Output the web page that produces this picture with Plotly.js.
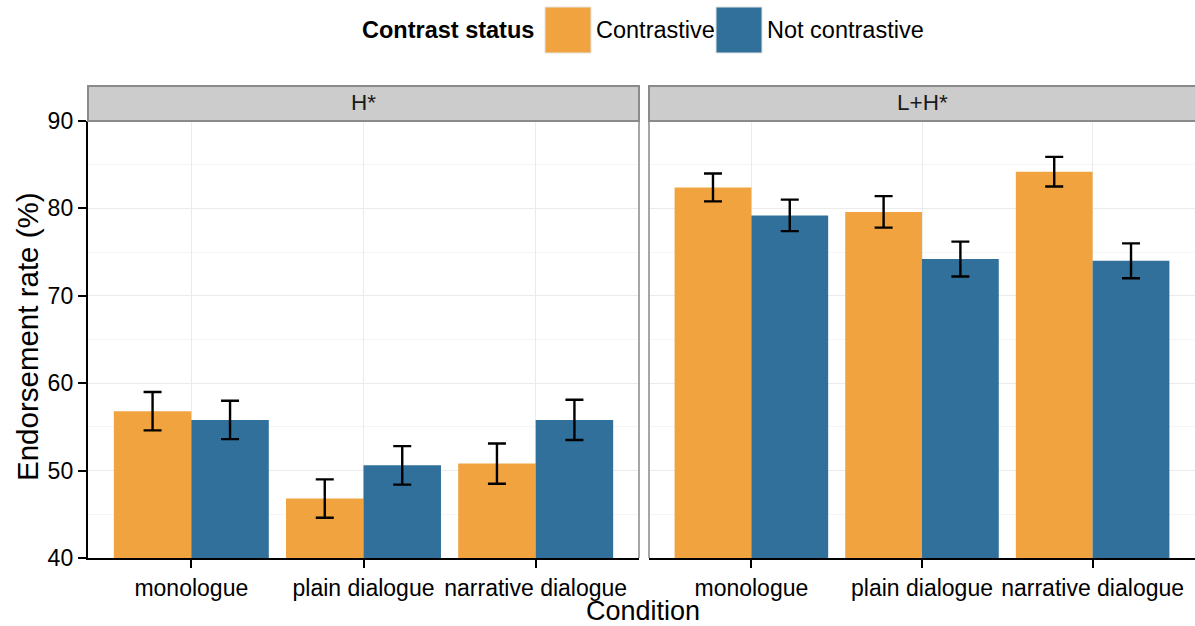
<!DOCTYPE html>
<html>
<head>
<meta charset="utf-8">
<script src="https://cdn.plot.ly/plotly-3.0.1.min.js"></script>
<style>html,body{margin:0;padding:0;background:#fff;}#chart{width:1195px;height:626px;}</style>
</head>
<body>
<div id="chart"></div>
<script>
// ---- data ----
const conditions = ["monologue", "plain dialogue", "narrative dialogue"];
const panels = ["H*", "L+H*"];
const seriesNames = ["Contrastive", "Not contrastive"];
const legendTitle = "Contrast status";
const xTitle = "Condition";
const yTitle = "Endorsement rate (%)";
const yTicks = [40, 50, 60, 70, 80, 90];

// H* panel
const hContrastive = [56.8, 46.8, 50.8];
const hContrastiveErr = [2.2, 2.2, 2.3];
const hNotContrastive = [55.8, 50.6, 55.8];
const hNotContrastiveErr = [2.2, 2.2, 2.3];
// L+H* panel
const lhContrastive = [82.4, 79.6, 84.2];
const lhContrastiveErr = [1.6, 1.8, 1.7];
const lhNotContrastive = [79.2, 74.2, 74.0];
const lhNotContrastiveErr = [1.8, 2.0, 2.0];

const colors = ["#F0A33F", "#31709B"];

// ---- chart ----
const W = 1195, H = 626;
const px = v => v / W;
const py = v => 1 - v / H;

function barTrace(name, y, err, color, xa, ya) {
  return {
    type: "bar", name: name, x: conditions, y: y,
    xaxis: xa, yaxis: ya,
    marker: {color: color, line: {width: 0}},
    error_y: {type: "data", array: err, visible: true, color: "#000", thickness: 2.4, width: 9},
    showlegend: false, hoverinfo: "x+y"
  };
}

const data = [
  barTrace(seriesNames[0], hContrastive, hContrastiveErr, colors[0], "x", "y"),
  barTrace(seriesNames[1], hNotContrastive, hNotContrastiveErr, colors[1], "x", "y"),
  barTrace(seriesNames[0], lhContrastive, lhContrastiveErr, colors[0], "x2", "y2"),
  barTrace(seriesNames[1], lhNotContrastive, lhNotContrastiveErr, colors[1], "x2", "y2")
];

const font = "Liberation Sans, Arial, Helvetica, sans-serif";
const yTop = 121, yBot = 558;
const xDom1 = [px(88), px(639)];
const xDom2 = [px(649), 1];
const yDom = [py(yBot), py(yTop)];

const commonX = {
  type: "category", range: [-0.6, 2.6], showgrid: true, gridcolor: "#ebebeb", gridwidth: 1,
  showline: true, linecolor: "#000", linewidth: 2.2, ticks: "outside", ticklen: 8, tickwidth: 2, tickcolor: "#000",
  tickfont: {family: font, size: 23, color: "#000"}, zeroline: false, fixedrange: true
};
const commonY = {
  range: [40, 90], tickvals: yTicks, showgrid: true, gridcolor: "#ebebeb", gridwidth: 1, zeroline: false,
  minor: {dtick: 5, tick0: 45, showgrid: true, gridcolor: "#f5f5f5", gridwidth: 1},
  fixedrange: true
};

const shapes = [];
const annotations = [];
// panel borders (right edge of left panel, left edge of right panel)
shapes.push({type: "line", xref: "x domain", yref: "y domain", x0: 1, x1: 1, y0: 0, y1: 1, line: {color: "#888", width: 1.5}});
shapes.push({type: "line", xref: "x2 domain", yref: "y2 domain", x0: 0, x1: 0, y0: 0, y1: 1, line: {color: "#888", width: 1.5}});
// strips
const stripTop = py(86), stripBot = py(121);
[["x domain", panels[0]], ["x2 domain", panels[1]]].forEach(([xr, label], i) => {
  shapes.push({type: "rect", xref: xr, yref: "paper", x0: 0, x1: i === 0 ? 1 : 1.02, y0: stripBot, y1: stripTop,
    fillcolor: "#cccccc", line: {color: "#8a8a8a", width: 2}, layer: "above"});
  annotations.push({xref: xr, yref: "paper", x: 0.5, y: py(103), text: label, showarrow: false,
    font: {family: font, size: 22.5, color: "#1a1a1a"}, xanchor: "center", yanchor: "middle"});
});
// axis titles
annotations.push({xref: "paper", yref: "paper", x: px(643), y: py(611), text: xTitle, showarrow: false,
  font: {family: font, size: 27, color: "#000"}, xanchor: "center", yanchor: "middle", borderpad: 0});
annotations.push({xref: "paper", yref: "paper", x: px(27), y: py(337), text: yTitle, textangle: -90, showarrow: false,
  font: {family: font, size: 29.5, color: "#000"}, xanchor: "center", yanchor: "middle"});
// legend (drawn manually to match large key boxes)
annotations.push({xref: "paper", yref: "paper", x: px(536), y: py(30), text: "<b>" + legendTitle + "</b>", showarrow: false,
  font: {family: font, size: 23.5, color: "#000"}, xanchor: "right", yanchor: "middle"});
const keyLeft = [545, 716];
seriesNames.forEach((n, i) => {
  shapes.push({type: "rect", xref: "paper", yref: "paper", x0: px(keyLeft[i]), x1: px(keyLeft[i] + 46), y0: py(53), y1: py(7),
    fillcolor: colors[i], line: {color: "#e3e3e3", width: 1}});
  annotations.push({xref: "paper", yref: "paper", x: px(keyLeft[i] + 49), y: py(30), text: n, showarrow: false,
    font: {family: font, size: 23.5, color: "#000"}, xanchor: "left", yanchor: "middle"});
});

const layout = {
  width: W, height: H, margin: {l: 0, r: 0, t: 0, b: 0},
  paper_bgcolor: "#fff", plot_bgcolor: "#fff",
  barmode: "group", bargap: 0.1, bargroupgap: 0,
  font: {family: font, color: "#000"},
  xaxis: Object.assign({}, commonX, {domain: xDom1, anchor: "y"}),
  xaxis2: Object.assign({}, commonX, {domain: xDom2, anchor: "y2"}),
  yaxis: Object.assign({}, commonY, {domain: yDom, anchor: "x", showline: true, linecolor: "#000", linewidth: 2.2,
    ticks: "outside", ticklen: 8, tickwidth: 2, tickcolor: "#000", tickfont: {family: font, size: 23, color: "#000"}}),
  yaxis2: Object.assign({}, commonY, {domain: yDom, anchor: "x2", showticklabels: false, ticks: "", showline: false}),
  shapes: shapes, annotations: annotations, showlegend: false
};

Plotly.newPlot("chart", data, layout, {displayModeBar: false, staticPlot: true});
</script>
</body>
</html>
